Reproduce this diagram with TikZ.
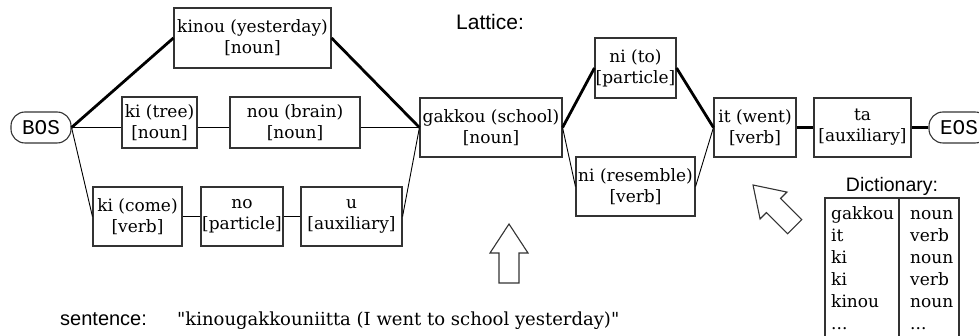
\documentclass[tikz,border=0pt]{standalone}
\usepackage{fontspec}
\setmainfont{DejaVu Serif}[Ligatures=TeXOff]
\newfontfamily\labelsans{Liberation Sans}
\newfontfamily\labelmono{Liberation Mono}
\begin{document}
\begin{tikzpicture}[x=1pt,y=-1pt,
  wbox/.style={draw=black!80,line width=1.1pt,rectangle,inner sep=0pt,align=center,
    minimum height=59pt,font=\fontsize{17}{21}\selectfont},
  term/.style={draw=black!80,line width=1.1pt,rounded corners=14pt,minimum width=60pt,
    minimum height=31pt,inner sep=0pt,font=\labelmono\fontsize{21}{21}\selectfont},
  best/.style={line width=2.8pt},
  alt/.style={line width=0.9pt},
  bigarrow/.style={draw=black!80,line width=1.1pt,line join=miter},
  dicttext/.style={anchor=base west,inner sep=0pt,font=\fontsize{17}{17}\selectfont}]
\useasboundingbox (0,0) rectangle (979,336);
% terminals
\node[term] (BOS) at (41,127.5) {BOS};
\node[term] (EOS) at (959,127.5) {EOS};
% word boxes
\node[wbox,minimum width=157pt,minimum height=60pt] (kinou) at (252.5,38) {kinou (yesterday)\\{}[noun]};
\node[wbox,minimum width=75pt,minimum height=51pt] (kitree) at (159.5,122.5) {ki (tree)\\{}[noun]};
\node[wbox,minimum width=130pt,minimum height=51pt] (nou) at (295,122.5) {nou (brain)\\{}[noun]};
\node[wbox,minimum width=89pt] (kicome) at (137.5,216.5) {ki (come)\\{}[verb]};
\node[wbox,minimum width=82pt] (no) at (242,216.5) {no\\{}[particle]};
\node[wbox,minimum width=101pt] (u) at (351.5,216.5) {u\\{}[auxiliary]};
\node[wbox,minimum width=142pt] (gakkou) at (491,127.5) {gakkou (school)\\{}[noun]};
\node[wbox,minimum width=81pt,minimum height=60pt] (nito) at (635.5,68) {ni (to)\\{}[particle]};
\node[wbox,minimum width=119pt] (nires) at (635.5,186.5) {ni (resemble)\\{}[verb]};
\node[wbox,minimum width=82pt] (it) at (755,127.5) {it (went)\\{}[verb]};
\node[wbox,minimum width=97pt] (ta) at (862.5,127.5) {ta\\{}[auxiliary]};
% connectors
\draw[best] (BOS.east) -- (kinou.west);
\draw[best] (kinou.east) -- (gakkou.west);
\draw[alt] (BOS.east) -- (BOS.east -| kitree.west);
\draw[alt] (kitree.east |- BOS.east) -- (nou.west |- BOS.east);
\draw[alt] (nou.east |- BOS.east) -- (gakkou.west);
\draw[alt] (BOS.east) -- (kicome.west);
\draw[alt] (kicome) -- (no);
\draw[alt] (no) -- (u);
\draw[alt] (u.east) -- (gakkou.west);
\draw[best] (gakkou.east) -- (nito.west);
\draw[alt] (gakkou.east) -- (nires.west);
\draw[best] (nito.east) -- (it.west);
\draw[alt] (nires.east) -- (it.west);
\draw[best] (it) -- (ta);
\draw[best] (ta) -- (EOS);
% labels
\node[font=\labelsans\fontsize{21}{21}\selectfont] (lattice) at (490,22) {Lattice:};
\node[anchor=base west,inner sep=0pt,font=\labelsans\fontsize{20}{20}\selectfont] (sentlabel) at (60,325) {sentence:};
\node[anchor=base west,inner sep=0pt,font=\fontsize{18}{18}\selectfont] (sentence) at (177,325) {"kinougakkouniitta (I went to school yesterday)"};
% arrows
\draw[bigarrow,shift={(509,224)}] (0,0) -- (19,29) -- (10,29) -- (10,59) -- (-10,59) -- (-10,29) -- (-19,29) -- cycle;
\draw[bigarrow,shift={(753,185)},rotate=45] (0,0) -- (19,29) -- (10,29) -- (10,59) -- (-10,59) -- (-10,29) -- (-19,29) -- cycle;
% dictionary
\node[font=\labelsans\fontsize{19.5}{19.5}\selectfont] (dicttitle) at (892,186) {Dictionary:};
\draw[draw=black!80,line width=1.1pt] (825,337) -- (825,198) -- (959,198) -- (959,337);
\draw[draw=black!80,line width=1.1pt] (899,198) -- (899,337);
\foreach \w/\p [count=\i] in {gakkou/noun,it/verb,ki/noun,ki/verb,kinou/noun}{
  \node[dicttext] (dw\i) at (831,{220+22*(\i-1)}) {\w};
  \node[dicttext] (dp\i) at (910,{220+22*(\i-1)}) {\p};
}
\node[dicttext] (dw6) at (831,330) {...};
\node[dicttext] (dp6) at (910,330) {...};
\end{tikzpicture}
\end{document}
